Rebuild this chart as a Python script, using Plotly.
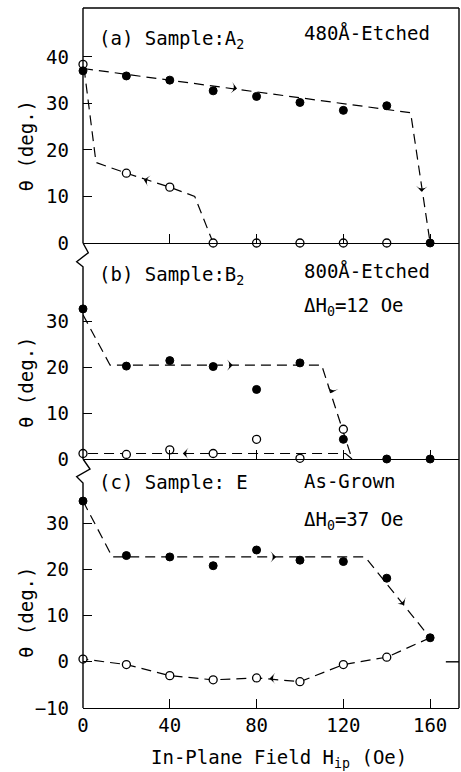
import plotly.graph_objects as go

# ---------------- data ----------------
H = [0, 20, 40, 60, 80, 100, 120, 140, 160]          # in-plane field (Oe)

# (a) Sample A2, 480 Å etched
a_filled = [37.0, 35.9, 35.0, 32.7, 31.5, 30.2, 28.5, 29.5, 0.0]
a_open_H = [0, 20, 40, 60, 80, 100, 120, 140]
a_open = [38.4, 15.0, 12.0, 0.0, 0.0, 0.0, 0.0, 0.0]
a_up_H = [0, 151, 160]
a_up = [37.5, 28.0, 0.0]
a_down_H = [60, 51.5, 40, 20, 6, 0.5]
a_down = [0.0, 10.0, 12.0, 15.0, 17.3, 37.5]

# (b) Sample B2, 800 Å etched
b_filled = [32.8, 20.3, 21.5, 20.2, 15.2, 21.0, 4.3, 0.0, 0.0]
b_open_H = [0, 20, 40, 60, 80, 100, 120]
b_open = [1.2, 1.0, 2.0, 1.2, 4.3, 0.15, 6.5]
b_up_H = [0, 12.5, 110, 124]
b_up = [31.5, 20.5, 20.5, 0.0]
b_down_H = [124, 121, 0]
b_down = [0.0, 1.2, 1.2]

# (c) Sample E, as grown
c_filled = [34.8, 23.0, 22.7, 20.8, 24.2, 22.0, 21.7, 18.1, 5.2]
c_open_H = [0, 20, 40, 60, 80, 100, 120, 140]
c_open = [0.6, -0.6, -3.0, -3.9, -3.5, -4.3, -0.6, 1.0]
c_up_H = [0, 13.5, 130, 160]
c_up = [34.8, 22.7, 22.7, 5.2]
c_down_H = [160] + c_open_H[::-1]
c_down = [c_filled[-1]] + c_open[::-1]

x_ticks = [0, 40, 80, 120, 160]

# direction arrows on the guide lines: panel, H, theta, heading (deg, clockwise from up)
arrow_panel = ["", "", "", "2", "2", "2", "3", "3", "3"]
arrow_H = [71, 156, 28, 69, 114.5, 46, 89, 148, 86]
arrow_theta = [33.2, 11.0, 13.6, 20.5, 14.4, 1.2, 22.7, 12.3, -3.6]
arrow_dir = [98, 183, 283, 90, 195, 270, 90, 145, 270]

FONT = "DejaVu Sans Mono"
fig = go.Figure()

def add_panel(suffix, up_H, up, down_H, down, open_H, opn, filled):
    xa, ya = "x" + suffix, "y" + suffix
    dash = dict(color="black", width=1.2, dash="10px,6px")
    fig.add_trace(go.Scatter(x=up_H, y=up, mode="lines", line=dash, xaxis=xa, yaxis=ya,
                             showlegend=False, hoverinfo="skip", cliponaxis=False))
    fig.add_trace(go.Scatter(x=down_H, y=down, mode="lines", line=dash, xaxis=xa, yaxis=ya,
                             showlegend=False, hoverinfo="skip", cliponaxis=False))
    fig.add_trace(go.Scatter(x=open_H, y=opn, mode="markers", xaxis=xa, yaxis=ya,
                             marker=dict(symbol="circle", size=8, color="white",
                                         line=dict(color="black", width=1.3)),
                             showlegend=False, cliponaxis=False))
    fig.add_trace(go.Scatter(x=H, y=filled, mode="markers", xaxis=xa, yaxis=ya,
                             marker=dict(symbol="circle", size=8, color="black",
                                         line=dict(color="black", width=1)),
                             showlegend=False, cliponaxis=False))
    idx = [i for i, p in enumerate(arrow_panel) if p == suffix]
    fig.add_trace(go.Scatter(x=[arrow_H[i] for i in idx], y=[arrow_theta[i] for i in idx],
                             mode="markers", xaxis=xa, yaxis=ya,
                             marker=dict(symbol="arrow-wide", size=8, color="black",
                                         angle=[arrow_dir[i] for i in idx],
                                         line=dict(width=0)),
                             showlegend=False, hoverinfo="skip", cliponaxis=False))

add_panel("", a_up_H, a_up, a_down_H, a_down, a_open_H, a_open, a_filled)
add_panel("2", b_up_H, b_up, b_down_H, b_down, b_open_H, b_open, b_filled)
add_panel("3", c_up_H, c_up, c_down_H, c_down, c_open_H, c_open, c_filled)

tickfont = dict(family=FONT, size=19, color="black")
xcommon = dict(range=[0, 173.3], showline=True, linecolor="black", linewidth=1.4,
               ticks="inside", ticklen=9, tickwidth=1.2, tickcolor="black",
               tickvals=x_ticks, showgrid=False, zeroline=False, tickfont=tickfont)
ycommon = dict(showline=False, ticks="inside", ticklen=9, tickwidth=1.2, tickcolor="black",
               showgrid=False, zeroline=False, tickfont=tickfont, ticklabelstandoff=13)

dA, dB = 0.6643, 0.3557
fig.update_layout(
    width=461, height=772, margin=dict(l=83, r=2, t=8, b=64),
    paper_bgcolor="white", plot_bgcolor="white",
    xaxis=dict(xcommon, anchor="y", domain=[0, 1], showticklabels=False),
    yaxis=dict(ycommon, anchor="x", domain=[dA, 1], range=[0, 50.5], tickvals=[0, 10, 20, 30, 40]),
    xaxis2=dict(xcommon, anchor="y2", domain=[0, 1], showticklabels=False),
    yaxis2=dict(ycommon, anchor="x2", domain=[dB, dA], range=[0, 47.2], tickvals=[0, 10, 20, 30]),
    xaxis3=dict(xcommon, anchor="y3", domain=[0, 1], showticklabels=True, ticklabelstandoff=0),
    yaxis3=dict(ycommon, anchor="x3", domain=[0, dB], range=[-10, 43.9], tickvals=[-10, 0, 10, 20, 30]),
)

line = dict(color="black", width=1.4)
shapes = [
    dict(type="line", xref="paper", yref="paper", x0=0, x1=1, y0=1, y1=1, line=line),
    dict(type="line", xref="paper", yref="paper", x0=1, x1=1, y0=0, y1=1, line=line),
    dict(type="line", xref="paper", yref="paper", x0=0, x1=0, y0=dA, y1=1, line=line),
    dict(type="path", xref="paper", yref="paper",
         path="M0,0.6643 L0.0141,0.6504 L-0.0168,0.6376 L0,0.6304 L0,0.3557", line=line),
    dict(type="path", xref="paper", yref="paper",
         path="M0,0.3557 L0.0186,0.3414 L-0.0168,0.3304 L0,0.3214 L0,0", line=line),
    dict(type="line", xref="paper", yref="y3", x0=0.965, x1=1, y0=0, y1=0, line=line),
]
fig.update_layout(shapes=shapes)

tf = dict(family=FONT, size=19, color="black")
ann = []
def txt(x, y, s, **kw):
    d = dict(xref="paper", yref="paper", x=x, y=y, text=s, showarrow=False,
             xanchor="left", yanchor="middle", font=tf)
    d.update(kw)
    ann.append(d)

txt(0.0372, 0.955, "(a) Sample:A<sub>2</sub>")
txt(0.5824, 0.9643, "480Å-Etched")
txt(0.0372, 0.618, "(b) Sample:B<sub>2</sub>")
txt(0.5824, 0.6243, "800Å-Etched")
txt(0.5824, 0.573, "ΔH<sub>0</sub>=12 Oe")
txt(0.0372, 0.3229, "(c) Sample: E")
txt(0.5824, 0.3243, "As-Grown")
txt(0.5824, 0.268, "ΔH<sub>0</sub>=37 Oe")
for yc in (0.8036, 0.4657, 0.1371):
    txt(-0.1516, yc, "θ (deg.)", xanchor="center", textangle=-90)
txt(0.5213, -0.072, "In-Plane Field H<sub>ip</sub> (Oe)", xanchor="center")

fig.update_layout(annotations=ann)
fig.write_html("out.html")
